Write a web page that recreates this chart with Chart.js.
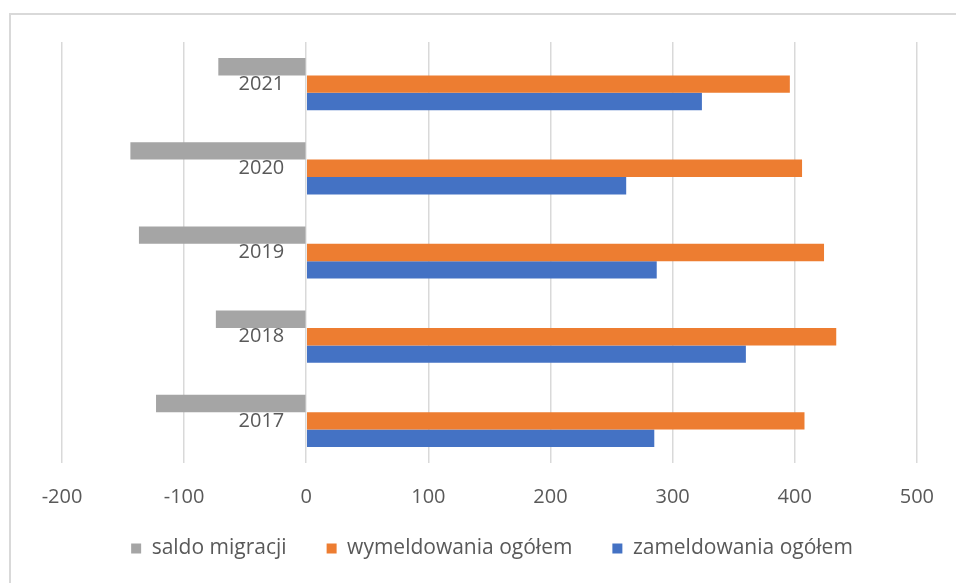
<!DOCTYPE html>
<html>
<head>
<meta charset="utf-8">
<script src="https://cdn.jsdelivr.net/npm/chart.js@4"></script>
<style>
    html, body { margin: 0; padding: 0; background: #fff; overflow: hidden; }
    #frame {
        position: absolute; left: 9px; top: 13px; width: 1000px; height: 700px;
        border-left: 2px solid #d9d9d9; border-top: 2px solid #d9d9d9;
    }
    #wrap { position: absolute; left: 0; top: 0; width: 956px; height: 583px; }
</style>
</head>
<body>
<div id="frame"></div>
<div id="wrap"><canvas id="chart"></canvas></div>
<script>
// dane
const years = ['2021', '2020', '2019', '2018', '2017'];
const saldoMigracji = [-72, -144, -137, -74, -123];
const wymeldowania = [396, 406, 424, 434, 408];
const zameldowania = [324, 262, 287, 360, 285];
const xTicks = [-200, -100, 0, 100, 200, 300, 400, 500];

const FONT = "'Open Sans', sans-serif";
const TEXT = '#595959';

// legend padding (40) is used for both item gap and top gap; pull the legend up a bit
const legendLift = {
    id: 'legendLift',
    afterLayout(chart) {
        if (!chart.legend) return;
        chart.legend.top -= 11;
        chart.legend.bottom -= 11;
    }
};

new Chart(document.getElementById('chart'), {
    type: 'bar',
    data: {
        labels: years,
        datasets: [
            { label: 'saldo migracji', data: saldoMigracji, backgroundColor: '#a5a5a5' },
            { label: 'wymeldowania ogółem', data: wymeldowania, backgroundColor: '#ed7d31' },
            { label: 'zameldowania ogółem', data: zameldowania, backgroundColor: '#4472c4' }
        ]
    },
    options: {
        indexAxis: 'y',
        responsive: true,
        maintainAspectRatio: false,
        animation: false,
        datasets: {
            bar: { categoryPercentage: 0.62, barPercentage: 1.0 }
        },
        layout: { padding: { left: 62, right: 34, top: 42, bottom: 3 } },
        scales: {
            x: {
                min: xTicks[0],
                max: xTicks[xTicks.length - 1],
                afterBuildTicks: axis => { axis.ticks = xTicks.map(v => ({ value: v })); },
                afterFit: axis => { axis.height = 46; },
                grid: { color: '#d9d9d9', lineWidth: 1.5, drawTicks: false },
                border: { display: false },
                ticks: { color: TEXT, font: { family: FONT, size: 20 }, padding: 22 }
            },
            y: {
                // year labels sit just left of the zero line
                position: { x: -18 },
                grid: { display: false },
                border: { display: false },
                ticks: { color: TEXT, font: { family: FONT, size: 20 } }
            }
        },
        plugins: {
            legend: {
                position: 'bottom',
                labels: {
                    color: TEXT,
                    font: { family: FONT, size: 21 },
                    boxWidth: 10,
                    boxHeight: 10,
                    padding: 40
                }
            },
            tooltip: { enabled: false }
        }
    },
    plugins: [legendLift]
});
</script>
</body>
</html>
